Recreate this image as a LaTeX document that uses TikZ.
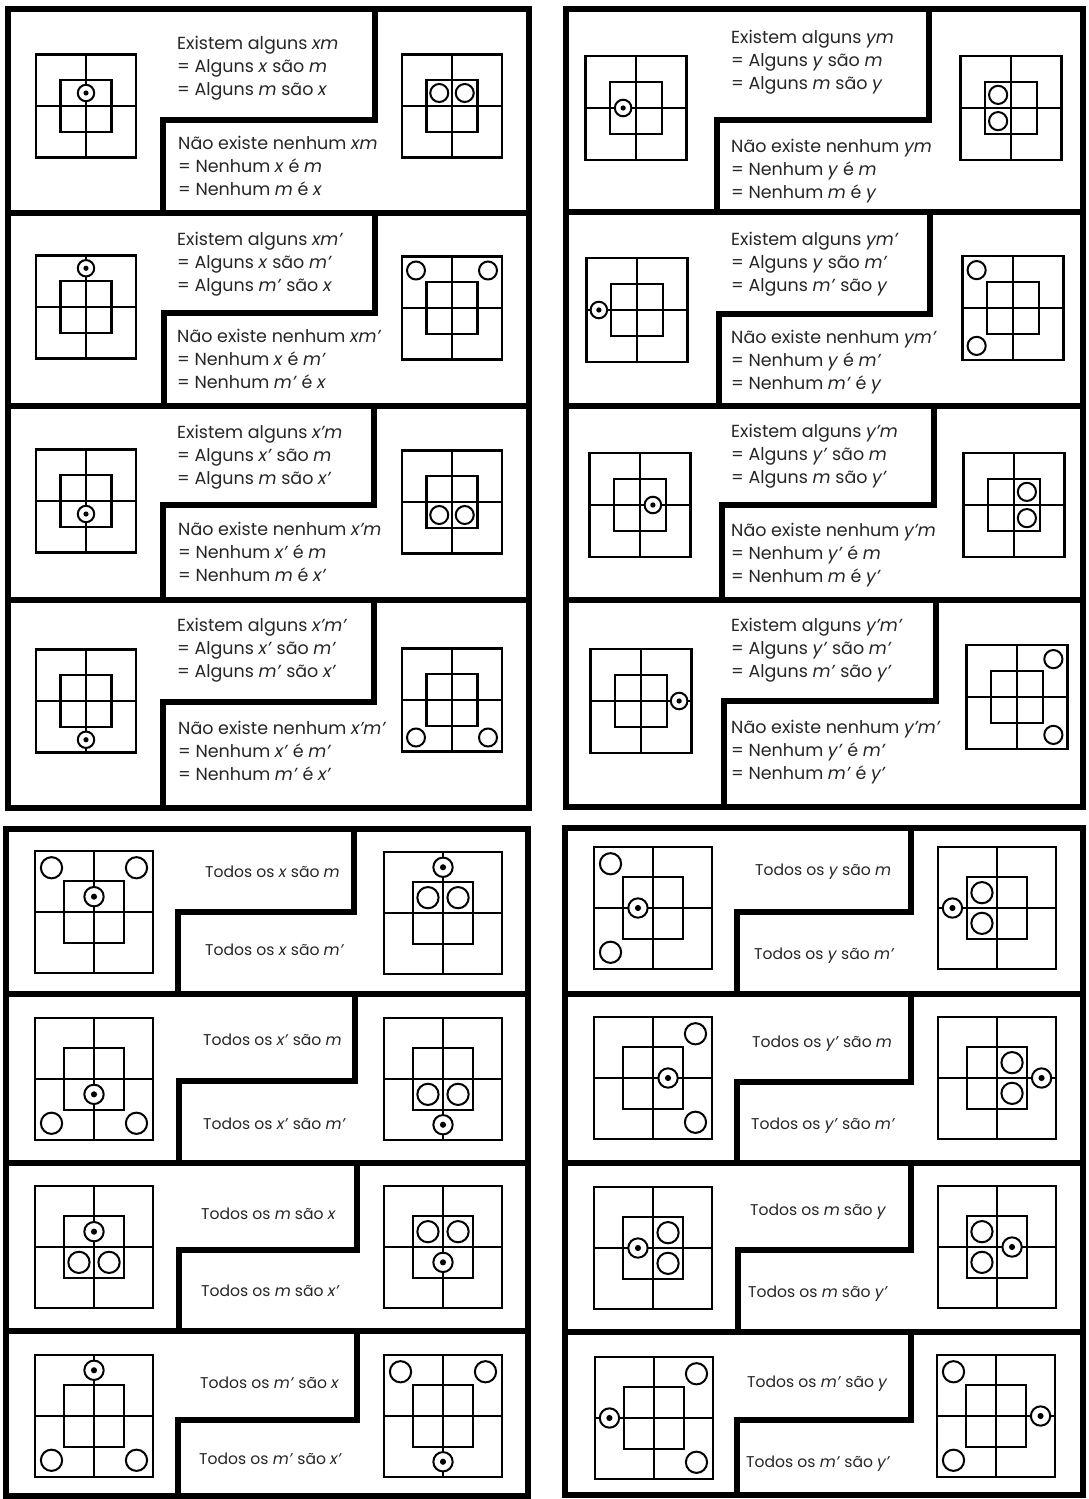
\documentclass[tikz,border=0pt]{standalone}
\usepackage{fontspec}
\setmainfont{Poppins}
\newcommand\vv[1]{\textit{#1}}
\tikzset{
  frame/.style={line width=6.5pt, line join=miter},
  zline/.style={line width=5.5pt, line join=miter},
  dline/.style={line width=2.2pt},
  txt/.style={anchor=base west, inner sep=0pt, font=\fontsize{17.5}{23}\selectfont, text=black!85},
  btxt/.style={txt, font=\fontsize{15.6}{20}\selectfont},
}
\newcommand\Oc[1]{\draw[line width=2pt, fill=white] (#1) circle[radius=9];}
\newcommand\Dc[1]{\draw[line width=2pt, fill=white] (#1) circle[radius=8.2]; \fill (#1) circle[radius=2.6];}
\newcommand\dgm[4]{%
  \begin{scope}[shift={(#1,#2)}, scale=#3]
    \draw[dline] (-50,-51.5) rectangle (50,51.5);
    \draw[dline] (-25.5,-26) rectangle (25.5,26);
    \draw[dline] (0,-51.5) -- (0,51.5);
    \draw[dline] (-50,0) -- (50,0);
    \path (-12.75,-13) coordinate (iUL) (12.75,-13) coordinate (iUR)
          (-12.75,13) coordinate (iLL) (12.75,13) coordinate (iLR)
          (-36,-37.5) coordinate (cUL) (36,-37.5) coordinate (cUR)
          (-36,37.5) coordinate (cLL) (36,37.5) coordinate (cLR)
          (0,-13) coordinate (vU) (0,-38.75) coordinate (vUo)
          (0,13) coordinate (vD) (0,38.75) coordinate (vDo)
          (-12.75,0) coordinate (hL) (-37.75,0) coordinate (hLo)
          (12.75,0) coordinate (hR) (37.75,0) coordinate (hRo);
    #4
  \end{scope}}
\newcommand\trow[8]{%
  \node[txt] (#1a) at (#2,#3) {Existem alguns \vv{#6}};
  \node[txt] (#1b) at (#2,#3+23) {= Alguns \vv{#7} são \vv{#8}};
  \node[txt] (#1c) at (#2,#3+46) {= Alguns \vv{#8} são \vv{#7}};
  \node[txt] (#1d) at (#4,#5) {Não existe nenhum \vv{#6}};
  \node[txt] (#1e) at (#4,#5+23) {= Nenhum \vv{#7} é \vv{#8}};
  \node[txt] (#1f) at (#4,#5+46) {= Nenhum \vv{#8} é \vv{#7}};}
\newcommand\brow[7]{%
  \node[btxt] (#1a) at (#2,#3) {Todos os \vv{#6} são \vv{#7}};
  \node[btxt] (#1b) at (#4,#5) {Todos os \vv{#6} são \vv{#7’}};}
\begin{document}
\begin{tikzpicture}[x=1pt, y=-1pt]
\useasboundingbox[fill=white] (0,0) rectangle (1088,1499);
% ---------- frames, dividers, Z lines ----------
% top-left
\draw[frame] (8,9) rectangle (529,808);
\draw[zline] (8,213) -- (529,213) (8,406) -- (529,406) (8,600) -- (529,600);
\draw[zline] (375,9) -- (375,120) -- (163,120) -- (163,213);
\draw[zline] (375,213) -- (375,313) -- (164,313) -- (164,406);
\draw[zline] (374,406) -- (374,505) -- (163,505) -- (163,600);
\draw[zline] (374,600) -- (374,702) -- (163,702) -- (163,808);
% top-right
\draw[frame] (566,9) rectangle (1083,807);
\draw[zline] (566,212) -- (1083,212) (566,406) -- (1083,406) (566,600) -- (1083,600);
\draw[zline] (929,9) -- (929,120) -- (717,120) -- (717,212);
\draw[zline] (930,212) -- (930,314) -- (719,314) -- (719,406);
\draw[zline] (934,406) -- (934,505) -- (722,505) -- (722,600);
\draw[zline] (936,600) -- (936,701) -- (724,701) -- (724,807);
% bottom-left
\draw[frame] (6,829) rectangle (528,1496);
\draw[zline] (6,994) -- (528,994) (6,1163) -- (528,1163) (6,1331) -- (528,1331);
\draw[zline] (354,829) -- (354,912) -- (178,912) -- (178,994);
\draw[zline] (355,994) -- (355,1081) -- (179,1081) -- (179,1163);
\draw[zline] (357,1163) -- (357,1250) -- (179,1250) -- (179,1331);
\draw[zline] (357,1331) -- (357,1420) -- (178,1420) -- (178,1496);
% bottom-right
\draw[frame] (565,828) rectangle (1083,1495);
\draw[zline] (565,994) -- (1083,994) (565,1163) -- (1083,1163) (565,1332) -- (1083,1332);
\draw[zline] (911,828) -- (911,912) -- (737,912) -- (737,994);
\draw[zline] (911,994) -- (911,1082) -- (737,1082) -- (737,1163);
\draw[zline] (911,1163) -- (911,1250) -- (738,1250) -- (738,1332);
\draw[zline] (911,1332) -- (911,1420) -- (737,1420) -- (737,1495);
% ---------- diagrams ----------
% top-left
\dgm{86}{106}{1}{\Dc{vU}}
\dgm{86}{307}{1}{\Dc{vUo}}
\dgm{86}{501}{1}{\Dc{vD}}
\dgm{86}{701}{1}{\Dc{vDo}}
\dgm{452}{106}{1}{\Oc{iUL}\Oc{iUR}}
\dgm{452}{308}{1}{\Oc{cUL}\Oc{cUR}}
\dgm{452}{502}{1}{\Oc{iLL}\Oc{iLR}}
\dgm{452}{700}{1}{\Oc{cLL}\Oc{cLR}}
% top-right
\dgm{636}{108}{1.01}{\Dc{hL}}
\dgm{637}{310}{1.01}{\Dc{hLo}}
\dgm{640}{505}{1.01}{\Dc{hR}}
\dgm{641}{701}{1.01}{\Dc{hRo}}
\dgm{1011}{108}{1.01}{\Oc{iUL}\Oc{iLL}}
\dgm{1013}{308}{1.01}{\Oc{cUL}\Oc{cLL}}
\dgm{1014}{505}{1.01}{\Oc{iUR}\Oc{iLR}}
\dgm{1017}{697}{1.01}{\Oc{cUR}\Oc{cLR}}
% bottom-left
\dgm{94}{912}{1.18}{\Oc{cUL}\Oc{cUR}\Dc{vU}}
\dgm{94}{1079}{1.18}{\Oc{cLL}\Oc{cLR}\Dc{vD}}
\dgm{94}{1247}{1.18}{\Oc{iLL}\Oc{iLR}\Dc{vU}}
\dgm{94}{1416}{1.18}{\Oc{cLL}\Oc{cLR}\Dc{vUo}}
\dgm{443}{913}{1.18}{\Oc{iUL}\Oc{iUR}\Dc{vUo}}
\dgm{443}{1079}{1.18}{\Oc{iLL}\Oc{iLR}\Dc{vDo}}
\dgm{443}{1247}{1.18}{\Oc{iUL}\Oc{iUR}\Dc{vD}}
\dgm{443}{1416}{1.18}{\Oc{cUL}\Oc{cUR}\Dc{vDo}}
% bottom-right
\dgm{653}{908}{1.18}{\Oc{cUL}\Oc{cLL}\Dc{hL}}
\dgm{653}{1078}{1.18}{\Oc{cUR}\Oc{cLR}\Dc{hR}}
\dgm{653}{1248}{1.18}{\Oc{iUR}\Oc{iLR}\Dc{hL}}
\dgm{654}{1418}{1.18}{\Oc{cUR}\Oc{cLR}\Dc{hLo}}
\dgm{997}{908}{1.18}{\Oc{iUL}\Oc{iLL}\Dc{hLo}}
\dgm{997}{1078}{1.18}{\Oc{iUR}\Oc{iLR}\Dc{hRo}}
\dgm{997}{1247}{1.18}{\Oc{iUL}\Oc{iLL}\Dc{hR}}
\dgm{996}{1416}{1.18}{\Oc{cUL}\Oc{cLL}\Dc{hRo}}
% ---------- texts ----------
\trow{tla}{177}{49}{178}{149}{xm}{x}{m}
\trow{tlb}{177}{245}{177}{342}{xm’}{x}{m’}
\trow{tlc}{177}{438}{178}{535}{x’m}{x’}{m}
\trow{tld}{177}{631}{178}{734}{x’m’}{x’}{m’}
\trow{tra}{731}{43}{731}{152}{ym}{y}{m}
\trow{trb}{731}{245}{731}{343}{ym’}{y}{m’}
\trow{trc}{731}{437}{731}{536}{y’m}{y’}{m}
\trow{trd}{731}{631}{731}{733}{y’m’}{y’}{m’}
\brow{bla}{205}{877}{205}{955}{x}{m}
\brow{blb}{203}{1045}{203}{1129}{x’}{m}
\brow{blc}{201}{1219}{201}{1296}{m}{x}
\brow{bld}{200}{1388}{199}{1464}{m’}{x}
\brow{bra}{755}{875}{754}{959}{y}{m}
\brow{brb}{752}{1047}{751}{1129}{y’}{m}
\brow{brc}{750}{1215}{748}{1297}{m}{y}
\brow{brd}{747}{1387}{746}{1467}{m’}{y}
\end{tikzpicture}
\end{document}
